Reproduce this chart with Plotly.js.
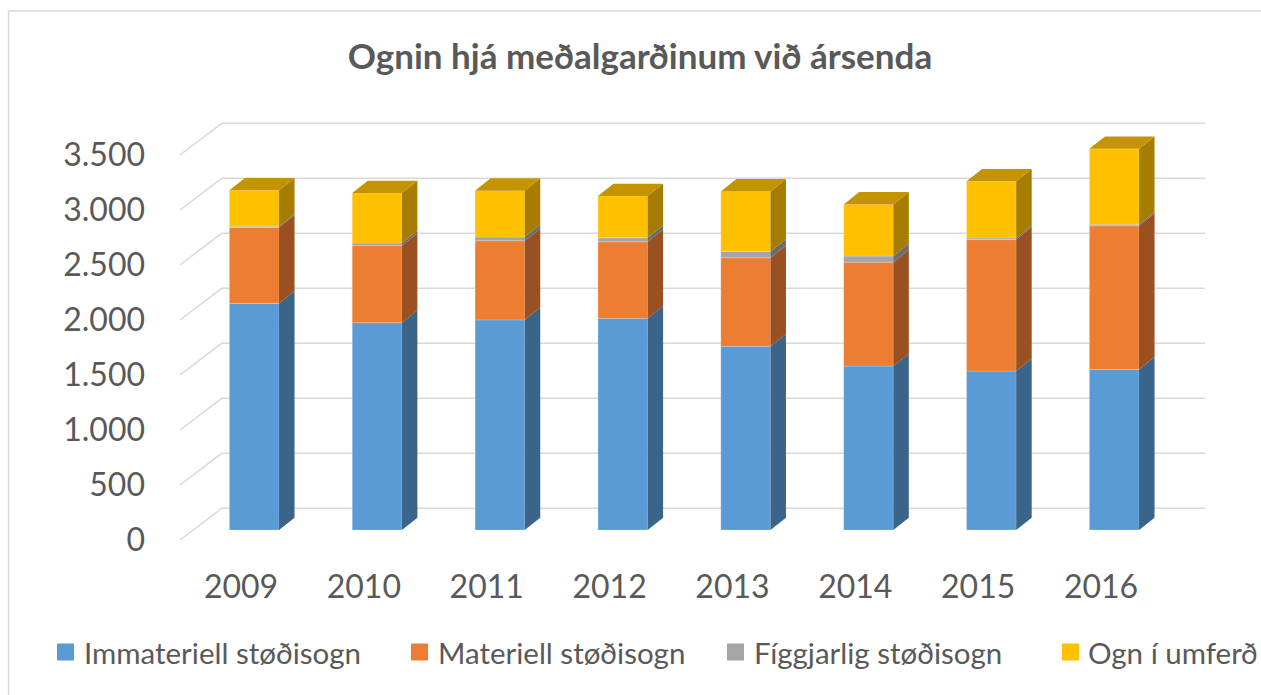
<!DOCTYPE html>
<html>
<head>
<meta charset="utf-8">
<script src="https://cdn.plot.ly/plotly-3.0.1.min.js"></script>
<style>html,body{margin:0;padding:0;background:#fff;}#chart{width:1261px;height:695px;}</style>
</head>
<body>
<div id="chart"></div>
<script>
// ---- data ----
const years = ['2009', '2010', '2011', '2012', '2013', '2014', '2015', '2016'];
const immateriell = [2060, 1885, 1910, 1925, 1670, 1490, 1445, 1460];
const materiell = [690, 700, 720, 695, 805, 945, 1195, 1305];
const figgjarlig = [12, 24, 34, 36, 57, 55, 15, 15];
const ognUmferd = [327, 455, 421, 381, 546, 470, 515, 685];
const seriesNames = ['Immateriell støðisogn', 'Materiell støðisogn', 'Fíggjarlig støðisogn', 'Ogn í umferð'];
const yTicks = [0, 500, 1000, 1500, 2000, 2500, 3000, 3500];

// ---- styling / geometry ----
const frontColors = ['#5B9BD5', '#ED7D31', '#A5A5A5', '#FFC000'];
const sideColors = ['#3A6489', '#9A5021', '#6C6C6C', '#A67D00'];
const topColor = '#C49400';
const textColor = '#595959';
const FONT = 'Lato, "Open Sans", sans-serif';

const W = 1261, H = 695;
const mL = 150, mR = 46, mT = 110, mB = 145;
const plotW = W - mL - mR, plotH = H - mT - mB;
const px = p => (p - mL) / plotW;          // pixel x -> paper x
const py = p => (H - mB - p) / plotH;      // pixel y -> paper y

const pxPerCat = 122.86;
const pxPerUnit = 0.11;
const xMin = -(254.2 - mL) / pxPerCat;
const xMax = xMin + plotW / pxPerCat;
const yMin = -((H - mB) - 530) / pxPerUnit;
const yMax = yMin + plotH / pxPerUnit;

const barW = 0.404;
const depthX = 15.5 / pxPerCat;
const depthY = 12.3 / pxPerUnit;
// front plane and back wall offsets relative to the bar front-face plane
const frontDX = -13.2 / pxPerCat, frontDY = -10 / pxPerUnit;
const backDX = 28.5 / pxPerCat, backDY = 21.7 / pxPerUnit;
const gridStartX = (180 - 254.2) / pxPerCat;
const gridEndX = (1205 - 254.2) / pxPerCat;

const idx = years.map((_, i) => i);
const series = [immateriell, materiell, figgjarlig, ognUmferd];

// cumulative bases
const bases = series.map((s, k) => idx.map(i => {
  let b = 0;
  for (let j = 0; j < k; j++) b += series[j][i];
  return b;
}));

const traces = [];
// front faces as stacked bars
series.forEach((s, k) => {
  traces.push({
    type: 'bar', x: idx, y: s, base: bases[k], width: barW,
    marker: { color: frontColors[k], line: { color: 'rgba(255,255,255,0.25)', width: 0.8 } },
    name: seriesNames[k], showlegend: false, hoverinfo: 'y'
  });
});
// side faces
series.forEach((s, k) => {
  const xs = [], ys = [];
  idx.forEach(i => {
    const xr = i + barW / 2;
    const b = bases[k][i], t = b + s[i];
    xs.push(xr, xr + depthX, xr + depthX, xr, xr, null);
    ys.push(b, b + depthY, t + depthY, t, b, null);
  });
  traces.push({
    type: 'scatter', mode: 'lines', x: xs, y: ys, fill: 'toself',
    fillcolor: sideColors[k], line: { width: 0, color: sideColors[k] },
    showlegend: false, hoverinfo: 'skip'
  });
});
// top faces
{
  const xs = [], ys = [];
  const last = series.length - 1;
  idx.forEach(i => {
    const xl = i - barW / 2, xr = i + barW / 2;
    const t = bases[last][i] + series[last][i];
    xs.push(xl, xr, xr + depthX, xl + depthX, xl, null);
    ys.push(t, t, t + depthY, t + depthY, t, null);
  });
  traces.push({
    type: 'scatter', mode: 'lines', x: xs, y: ys, fill: 'toself',
    fillcolor: topColor, line: { width: 0, color: topColor },
    showlegend: false, hoverinfo: 'skip'
  });
}

// gridlines (back wall + floor diagonals)
const shapes = yTicks.map(v => ({
  type: 'path', xref: 'x', yref: 'y', layer: 'below',
  path: 'M' + gridStartX + ',' + (v + frontDY) +
        ' L' + (gridStartX + (backDX - frontDX)) + ',' + (v + backDY) +
        ' L' + gridEndX + ',' + (v + backDY),
  line: { color: '#D9D9D9', width: 1.5 }
}));
// chart-area border (top and left)
shapes.push({
  type: 'path', xref: 'paper', yref: 'paper', layer: 'below',
  path: 'M' + px(8.5) + ',' + py(700) + ' L' + px(8.5) + ',' + py(11) + ' L' + px(1265) + ',' + py(11),
  line: { color: '#D9D9D9', width: 1.5 }
});

// custom one-row legend
const legendSwatchX = [57, 411, 727, 1062];
const legendTextX = [83, 437, 753, 1087];
const legendY = 652;
const annotations = [];
seriesNames.forEach((n, k) => {
  shapes.push({
    type: 'rect', xref: 'paper', yref: 'paper',
    x0: px(legendSwatchX[k]), x1: px(legendSwatchX[k] + 17),
    y0: py(legendY + 8.5), y1: py(legendY - 8.5),
    fillcolor: frontColors[k], line: { width: 0 }
  });
  annotations.push({
    xref: 'paper', yref: 'paper', x: px(legendTextX[k]), y: py(legendY),
    xanchor: 'left', yanchor: 'middle', showarrow: false, text: n,
    font: { family: FONT, size: 29.5, color: textColor }, borderpad: 0
  });
});

function fmt(v) {
  return String(v).replace(/\B(?=(\d{3})+(?!\d))/g, '.');
}

const layout = {
  width: W, height: H,
  margin: { l: mL, r: mR, t: mT, b: mB, pad: 0 },
  paper_bgcolor: '#ffffff', plot_bgcolor: 'rgba(0,0,0,0)',
  font: { family: FONT, color: textColor },
  title: {
    text: '<b>Ognin hjá meðalgarðinum við ársenda</b>',
    font: { family: FONT, size: 35, color: textColor },
    x: 640 / W, xanchor: 'center', xref: 'container',
    y: 1 - 57 / H, yanchor: 'middle', yref: 'container'
  },
  barmode: 'overlay',
  xaxis: {
    type: 'linear', range: [xMin, xMax], fixedrange: true,
    showgrid: false, zeroline: false, showline: false,
    tickvals: idx.map(i => i + frontDX), ticktext: years,
    ticks: '', ticklabelstandoff: 15,
    tickfont: { family: FONT, size: 32, color: textColor }
  },
  yaxis: {
    type: 'linear', range: [yMin, yMax], fixedrange: true,
    showgrid: false, zeroline: false, showline: false,
    tickvals: yTicks.map(v => v + frontDY), ticktext: yTicks.map(fmt),
    ticks: '', ticklabelstandoff: 4,
    tickfont: { family: FONT, size: 32, color: textColor }
  },
  shapes: shapes,
  annotations: annotations,
  showlegend: false
};

Plotly.newPlot('chart', traces, layout, { displayModeBar: false, staticPlot: true });
</script>
</body>
</html>
